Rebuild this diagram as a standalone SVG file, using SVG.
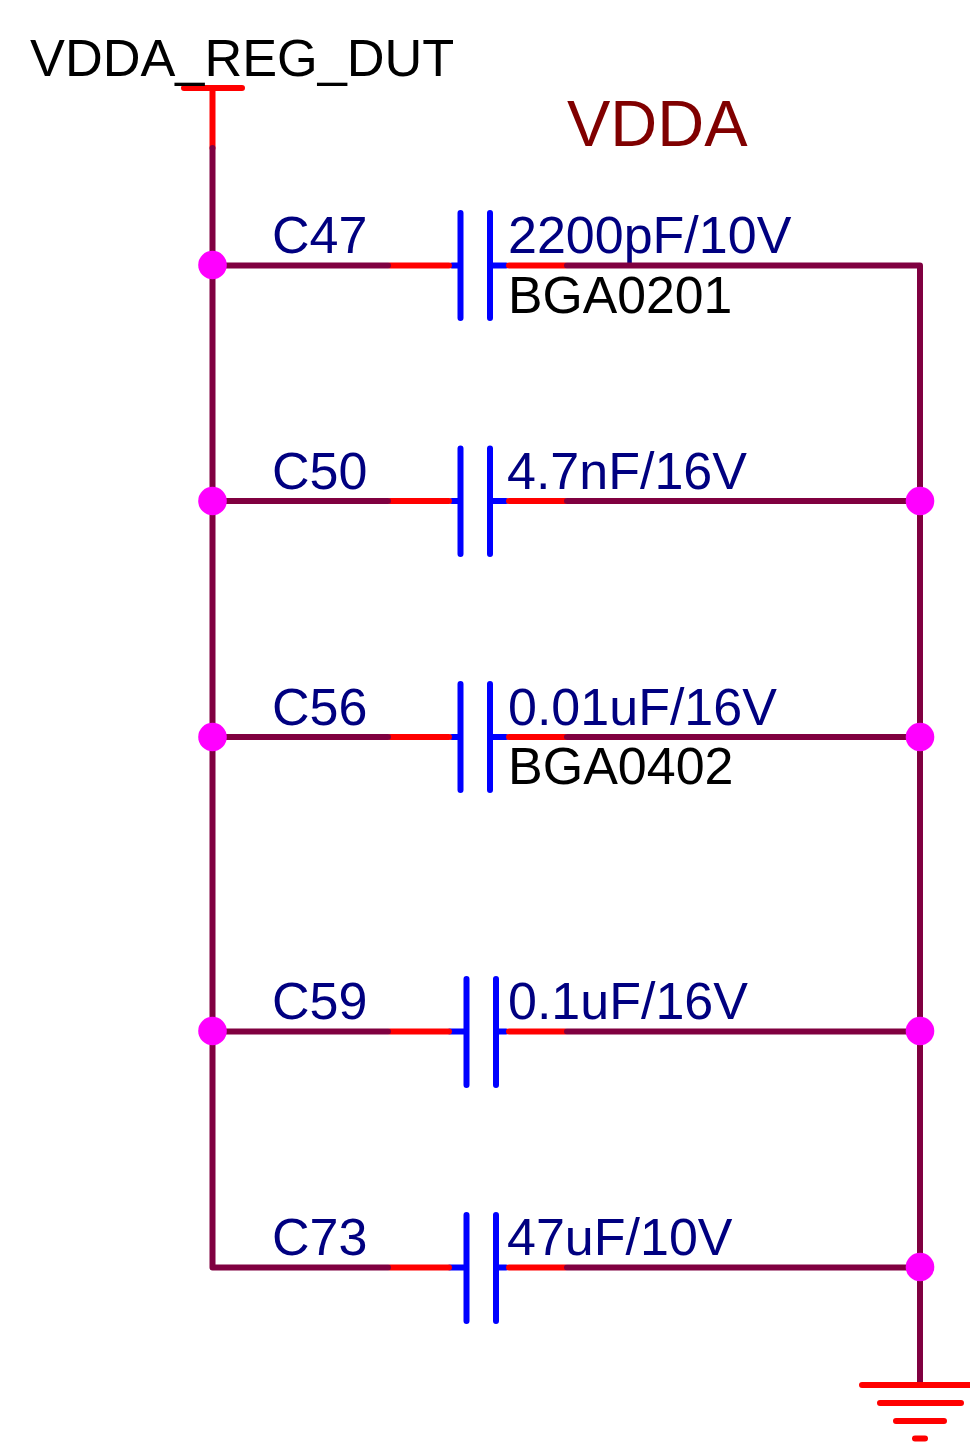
<svg xmlns="http://www.w3.org/2000/svg" width="970" height="1445" viewBox="0 0 970 1445">
<style>
.w{fill:none;stroke:#800040;stroke-width:6;stroke-linecap:round}
.r{fill:none;stroke:#ff0000;stroke-width:6;stroke-linecap:round}
.b{fill:none;stroke:#0000ff;stroke-width:6;stroke-linecap:round}
.d{fill:#ff00ff}
text{font-family:"Liberation Sans",Arial,sans-serif;font-size:52px}
.n{fill:#000080}
.k{fill:#000000}
.t{fill:#800000;font-size:65px}
</style>
<rect width="970" height="1445" fill="#ffffff"/>
<g id="net-vdda-reg-dut"><path class="r" d="M184 88H242M212.500 88V148"/><text class="k" x="30" y="76" style="font-size:52.300px">VDDA_REG_DUT</text></g>
<g id="title-vdda"><text class="t" x="567" y="146">VDDA</text></g>
<g id="C47"><path class="b" d="M452 265.500H460.500M460.500 213V318M490 213V318M490 265.500H506"/><path class="r" d="M390 265.500H449M509 265.500H565"/><text class="n" x="272" y="252.500">C47</text><text class="n" x="508" y="252.500">2200pF/10V</text><text class="k" x="508" y="312.500" style="font-size:51.700px">BGA0201</text></g>
<g id="C50"><path class="b" d="M452 501H460.500M460.500 448.500V554M490 448.500V554M490 501H506"/><path class="r" d="M390 501H449M509 501H565"/><text class="n" x="272" y="488.500">C50</text><text class="n" x="507" y="488.500">4.7nF/16V</text></g>
<g id="C56"><path class="b" d="M452 737H460.500M460.500 684V790M490 684V790M490 737H506"/><path class="r" d="M390 737H449M509 737H565"/><text class="n" x="272" y="724.500">C56</text><text class="n" x="508" y="724.500">0.01uF/16V</text><text class="k" x="508" y="783.500">BGA0402</text></g>
<g id="C59"><path class="b" d="M450 1031.500H466.500M466.500 979V1085M496 979V1085M496 1031.500H506"/><path class="r" d="M390 1031.500H449M509 1031.500H565"/><text class="n" x="272" y="1019">C59</text><text class="n" x="508" y="1019">0.1uF/16V</text></g>
<g id="C73"><path class="b" d="M450 1267.500H466.500M466.500 1215V1321M496 1215V1321M496 1267.500H506"/><path class="r" d="M390 1267.500H449M509 1267.500H565"/><text class="n" x="272" y="1255">C73</text><text class="n" x="507" y="1255">47uF/10V</text></g>
<g id="connectors">
<path class="w" d="M212.500 148V1267.500M920 266V1384M212.500 265.500H388M567 265.500H920M212.500 501H388M567 501H920M212.500 737H388M567 737H920M212.500 1031.500H388M567 1031.500H920M212.500 1267.500H388M567 1267.500H920"/>
</g>
<g id="junctions">
<circle class="d" cx="212.500" cy="265" r="14.300"/><circle class="d" cx="212.500" cy="501" r="14.300"/><circle class="d" cx="212.500" cy="737" r="14.300"/><circle class="d" cx="212.500" cy="1031" r="14.300"/>
<circle class="d" cx="920" cy="501" r="14.300"/><circle class="d" cx="920" cy="737" r="14.300"/><circle class="d" cx="920" cy="1031" r="14.300"/><circle class="d" cx="920" cy="1267" r="14.300"/>
</g>
<g id="ground"><path class="r" d="M862 1385H973M880 1403H961M896 1421H944M915 1438.500H925"/></g>
</svg>
